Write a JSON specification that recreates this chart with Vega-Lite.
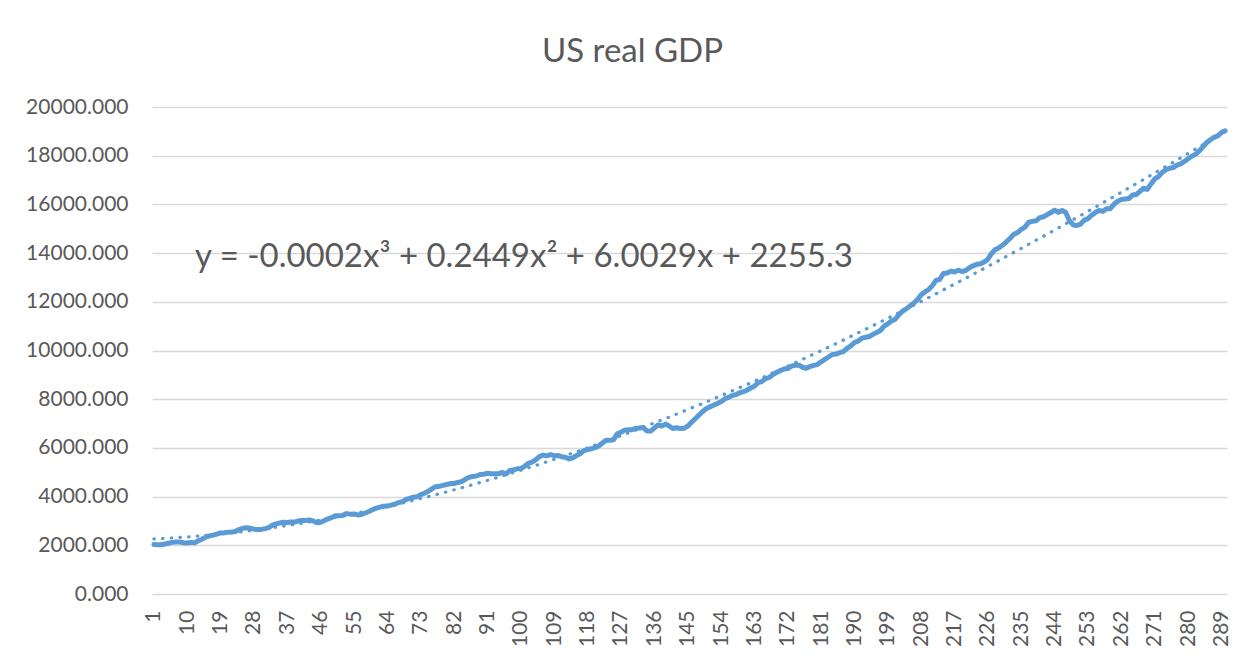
{
  "$schema": "https://vega.github.io/schema/vega-lite/v6.json",
  "width": 1075,
  "height": 487,
  "autosize": {"type": "none"},
  "padding": {"left": 152, "top": 107, "right": 25, "bottom": 64},
  "background": "white",
  "title": {"text": "US real GDP", "font": "Lato", "fontSize": 33, "fontWeight": "normal", "color": "#595959", "anchor": "middle", "dx": -57, "offset": 1, "baseline": "alphabetic"},
  "config": {
    "view": {"stroke": null},
    "axis": {"labelFont": "Lato", "labelFontSize": 21, "labelColor": "#595959", "ticks": false, "domain": false, "title": null, "labelOverlap": false},
    "axisX": {"labelOverlap": false, "labelFlush": false, "grid": false, "labelAngle": 270, "labelAlign": "right", "labelBaseline": "middle", "labelPadding": 16},
    "axisY": {"grid": true, "gridColor": "#D9D9D9", "gridWidth": 1.3, "labelPadding": 24, "format": ".3f"}
  },
  "datasets": {"gdp": [
{"q":1,"gdp":2033.1},{"q":2,"gdp":2027.6},{"q":3,"gdp":2023.5},{"q":4,"gdp":2055.1},
{"q":5,"gdp":2086.0},{"q":6,"gdp":2120.4},{"q":7,"gdp":2132.6},{"q":8,"gdp":2134.1},
{"q":9,"gdp":2105.6},{"q":10,"gdp":2098.4},{"q":11,"gdp":2120.0},{"q":12,"gdp":2102.3},
{"q":13,"gdp":2184.9},{"q":14,"gdp":2251.5},{"q":15,"gdp":2338.5},{"q":16,"gdp":2383.3},
{"q":17,"gdp":2415.7},{"q":18,"gdp":2457.5},{"q":19,"gdp":2508.2},{"q":20,"gdp":2513.7},
{"q":21,"gdp":2540.6},{"q":22,"gdp":2546.0},{"q":23,"gdp":2564.4},{"q":24,"gdp":2648.6},
{"q":25,"gdp":2697.9},{"q":26,"gdp":2718.7},{"q":27,"gdp":2703.4},{"q":28,"gdp":2662.5},
{"q":29,"gdp":2649.8},{"q":30,"gdp":2652.6},{"q":31,"gdp":2683.1},{"q":32,"gdp":2729.6},
{"q":33,"gdp":2827.3},{"q":34,"gdp":2880.0},{"q":35,"gdp":2918.6},{"q":36,"gdp":2945.1},
{"q":37,"gdp":2933.9},{"q":38,"gdp":2956.7},{"q":39,"gdp":2953.4},{"q":40,"gdp":2999.4},
{"q":41,"gdp":3024.8},{"q":42,"gdp":3020.7},{"q":43,"gdp":3040.7},{"q":44,"gdp":3002.1},
{"q":45,"gdp":2925.3},{"q":46,"gdp":2946.6},{"q":47,"gdp":3015.2},{"q":48,"gdp":3088.3},
{"q":49,"gdp":3139.9},{"q":50,"gdp":3210.8},{"q":51,"gdp":3211.1},{"q":52,"gdp":3229.1},
{"q":53,"gdp":3301.3},{"q":54,"gdp":3279.8},{"q":55,"gdp":3286.7},{"q":56,"gdp":3247.0},
{"q":57,"gdp":3264.3},{"q":58,"gdp":3328.0},{"q":59,"gdp":3388.0},{"q":60,"gdp":3463.4},
{"q":61,"gdp":3527.8},{"q":62,"gdp":3569.5},{"q":63,"gdp":3604.0},{"q":64,"gdp":3611.8},
{"q":65,"gdp":3651.1},{"q":66,"gdp":3683.1},{"q":67,"gdp":3753.7},{"q":68,"gdp":3787.0},
{"q":69,"gdp":3880.6},{"q":70,"gdp":3924.1},{"q":71,"gdp":3976.3},{"q":72,"gdp":3989.3},
{"q":73,"gdp":4080.8},{"q":74,"gdp":4136.9},{"q":75,"gdp":4216.3},{"q":76,"gdp":4319.2},
{"q":77,"gdp":4406.5},{"q":78,"gdp":4421.3},{"q":79,"gdp":4459.2},{"q":80,"gdp":4495.8},
{"q":81,"gdp":4535.6},{"q":82,"gdp":4538.4},{"q":83,"gdp":4581.3},{"q":84,"gdp":4615.9},
{"q":85,"gdp":4709.9},{"q":86,"gdp":4788.7},{"q":87,"gdp":4825.8},{"q":88,"gdp":4844.9},
{"q":89,"gdp":4905.8},{"q":90,"gdp":4918.9},{"q":91,"gdp":4957.8},{"q":92,"gdp":4937.5},
{"q":93,"gdp":4936.1},{"q":94,"gdp":4943.6},{"q":95,"gdp":4989.2},{"q":96,"gdp":4935.7},
{"q":97,"gdp":5069.7},{"q":98,"gdp":5097.2},{"q":99,"gdp":5139.1},{"q":100,"gdp":5151.2},
{"q":101,"gdp":5245.0},{"q":102,"gdp":5365.0},{"q":103,"gdp":5415.7},{"q":104,"gdp":5506.4},
{"q":105,"gdp":5642.7},{"q":106,"gdp":5704.1},{"q":107,"gdp":5674.1},{"q":108,"gdp":5727.0},
{"q":109,"gdp":5678.7},{"q":110,"gdp":5692.2},{"q":111,"gdp":5638.4},{"q":112,"gdp":5616.5},
{"q":113,"gdp":5548.2},{"q":114,"gdp":5587.8},{"q":115,"gdp":5683.4},{"q":116,"gdp":5758.9},
{"q":117,"gdp":5889.5},{"q":118,"gdp":5932.7},{"q":119,"gdp":5965.3},{"q":120,"gdp":6008.5},
{"q":121,"gdp":6079.5},{"q":122,"gdp":6197.7},{"q":123,"gdp":6309.5},{"q":124,"gdp":6309.7},
{"q":125,"gdp":6329.8},{"q":126,"gdp":6574.4},{"q":127,"gdp":6640.5},{"q":128,"gdp":6729.8},
{"q":129,"gdp":6741.9},{"q":130,"gdp":6749.1},{"q":131,"gdp":6799.2},{"q":132,"gdp":6816.2},
{"q":133,"gdp":6837.6},{"q":134,"gdp":6696.8},{"q":135,"gdp":6688.8},{"q":136,"gdp":6813.5},
{"q":137,"gdp":6947.0},{"q":138,"gdp":6895.6},{"q":139,"gdp":6978.1},{"q":140,"gdp":6902.1},
{"q":141,"gdp":6794.9},{"q":142,"gdp":6825.9},{"q":143,"gdp":6799.8},{"q":144,"gdp":6802.5},
{"q":145,"gdp":6892.1},{"q":146,"gdp":7048.0},{"q":147,"gdp":7189.9},{"q":148,"gdp":7339.0},
{"q":149,"gdp":7483.4},{"q":150,"gdp":7612.7},{"q":151,"gdp":7686.1},{"q":152,"gdp":7749.2},
{"q":153,"gdp":7824.2},{"q":154,"gdp":7893.1},{"q":155,"gdp":8013.7},{"q":156,"gdp":8073.2},
{"q":157,"gdp":8148.6},{"q":158,"gdp":8185.3},{"q":159,"gdp":8263.6},{"q":160,"gdp":8308.0},
{"q":161,"gdp":8369.9},{"q":162,"gdp":8460.2},{"q":163,"gdp":8533.7},{"q":164,"gdp":8680.2},
{"q":165,"gdp":8725.0},{"q":166,"gdp":8839.6},{"q":167,"gdp":8891.4},{"q":168,"gdp":9009.9},
{"q":169,"gdp":9101.5},{"q":170,"gdp":9170.9},{"q":171,"gdp":9238.9},{"q":172,"gdp":9257.1},
{"q":173,"gdp":9358.3},{"q":174,"gdp":9392.3},{"q":175,"gdp":9398.5},{"q":176,"gdp":9312.9},
{"q":177,"gdp":9269.4},{"q":178,"gdp":9341.6},{"q":179,"gdp":9388.8},{"q":180,"gdp":9421.6},
{"q":181,"gdp":9534.3},{"q":182,"gdp":9637.7},{"q":183,"gdp":9732.9},{"q":184,"gdp":9834.5},
{"q":185,"gdp":9851.0},{"q":186,"gdp":9908.3},{"q":187,"gdp":9955.6},{"q":188,"gdp":10091.0},
{"q":189,"gdp":10188.9},{"q":190,"gdp":10327.0},{"q":191,"gdp":10387.4},{"q":192,"gdp":10506.4},
{"q":193,"gdp":10543.6},{"q":194,"gdp":10575.1},{"q":195,"gdp":10665.1},{"q":196,"gdp":10737.5},
{"q":197,"gdp":10817.9},{"q":198,"gdp":10998.3},{"q":199,"gdp":11096.9},{"q":200,"gdp":11212.2},
{"q":201,"gdp":11284.6},{"q":202,"gdp":11472.1},{"q":203,"gdp":11615.6},{"q":204,"gdp":11715.4},
{"q":205,"gdp":11832.5},{"q":206,"gdp":11942.0},{"q":207,"gdp":12091.6},{"q":208,"gdp":12287.0},
{"q":209,"gdp":12403.3},{"q":210,"gdp":12498.7},{"q":211,"gdp":12662.4},{"q":212,"gdp":12877.6},
{"q":213,"gdp":12924.2},{"q":214,"gdp":13160.8},{"q":215,"gdp":13178.4},{"q":216,"gdp":13260.5},
{"q":217,"gdp":13222.7},{"q":218,"gdp":13300.0},{"q":219,"gdp":13244.8},{"q":220,"gdp":13280.9},
{"q":221,"gdp":13397.0},{"q":222,"gdp":13478.2},{"q":223,"gdp":13538.1},{"q":224,"gdp":13559.0},
{"q":225,"gdp":13634.3},{"q":226,"gdp":13751.5},{"q":227,"gdp":13985.1},{"q":228,"gdp":14145.6},
{"q":229,"gdp":14221.1},{"q":230,"gdp":14329.5},{"q":231,"gdp":14464.9},{"q":232,"gdp":14609.9},
{"q":233,"gdp":14771.6},{"q":234,"gdp":14839.8},{"q":235,"gdp":14972.1},{"q":236,"gdp":15066.6},
{"q":237,"gdp":15267.0},{"q":238,"gdp":15302.7},{"q":239,"gdp":15326.4},{"q":240,"gdp":15456.9},
{"q":241,"gdp":15493.3},{"q":242,"gdp":15582.1},{"q":243,"gdp":15666.7},{"q":244,"gdp":15762.0},
{"q":245,"gdp":15671.4},{"q":246,"gdp":15752.3},{"q":247,"gdp":15667.0},{"q":248,"gdp":15328.0},
{"q":249,"gdp":15155.9},{"q":250,"gdp":15134.1},{"q":251,"gdp":15189.2},{"q":252,"gdp":15356.1},
{"q":253,"gdp":15415.1},{"q":254,"gdp":15557.3},{"q":255,"gdp":15671.9},{"q":256,"gdp":15750.6},
{"q":257,"gdp":15712.8},{"q":258,"gdp":15825.1},{"q":259,"gdp":15820.7},{"q":260,"gdp":16004.1},
{"q":261,"gdp":16129.4},{"q":262,"gdp":16198.8},{"q":263,"gdp":16220.7},{"q":264,"gdp":16239.1},
{"q":265,"gdp":16382.9},{"q":266,"gdp":16403.2},{"q":267,"gdp":16531.7},{"q":268,"gdp":16663.6},
{"q":269,"gdp":16616.5},{"q":270,"gdp":16841.5},{"q":271,"gdp":17047.1},{"q":272,"gdp":17143.0},
{"q":273,"gdp":17305.8},{"q":274,"gdp":17422.8},{"q":275,"gdp":17486.0},{"q":276,"gdp":17514.1},
{"q":277,"gdp":17613.3},{"q":278,"gdp":17668.2},{"q":279,"gdp":17764.4},{"q":280,"gdp":17876.2},
{"q":281,"gdp":17977.3},{"q":282,"gdp":18054.1},{"q":283,"gdp":18185.6},{"q":284,"gdp":18359.4},
{"q":285,"gdp":18530.5},{"q":286,"gdp":18654.4},{"q":287,"gdp":18752.4},{"q":288,"gdp":18813.9},
{"q":289,"gdp":18950.3},{"q":290,"gdp":19020.6}
  ],
  "eq": [{"label": "y = -0.0002x³ + 0.2449x² + 6.0029x + 2255.3"}]},
  "layer": [
    {
      "data": {"name": "gdp"},
      "mark": {"type": "line", "color": "#5B9BD5", "strokeWidth": 5, "strokeJoin": "round", "strokeCap": "round"},
      "encoding": {
        "x": {"field": "q", "type": "quantitative", "scale": {"domain": [0.5, 290.5], "nice": false, "zero": false},
              "axis": {"values": [1,10,19,28,37,46,55,64,73,82,91,100,109,118,127,136,145,154,163,172,181,190,199,208,217,226,235,244,253,262,271,280,289], "tickCount": 100, "labelOverlap": false}},
        "y": {"field": "gdp", "type": "quantitative", "scale": {"domain": [0, 20000], "nice": false},
              "axis": {"values": [0,2000,4000,6000,8000,10000,12000,14000,16000,18000,20000], "tickCount": 20}}
      }
    },
    {
      "data": {"name": "gdp"},
      "transform": [{"regression": "gdp", "on": "q", "method": "poly", "order": 3}],
      "mark": {"type": "line", "color": "#5B9BD5", "strokeWidth": 3.2, "strokeDash": [0.5, 8.2], "strokeCap": "round"},
      "encoding": {
        "x": {"field": "q", "type": "quantitative"},
        "y": {"field": "gdp", "type": "quantitative"}
      }
    },
    {
      "data": {"name": "eq"},
      "mark": {"type": "text", "font": "Lato", "fontSize": 33, "color": "#595959", "align": "left", "baseline": "alphabetic", "dy": 14},
      "encoding": {
        "text": {"field": "label"},
        "x": {"datum": 12.1, "type": "quantitative"},
        "y": {"datum": 14000, "type": "quantitative"}
      }
    }
  ]
}
